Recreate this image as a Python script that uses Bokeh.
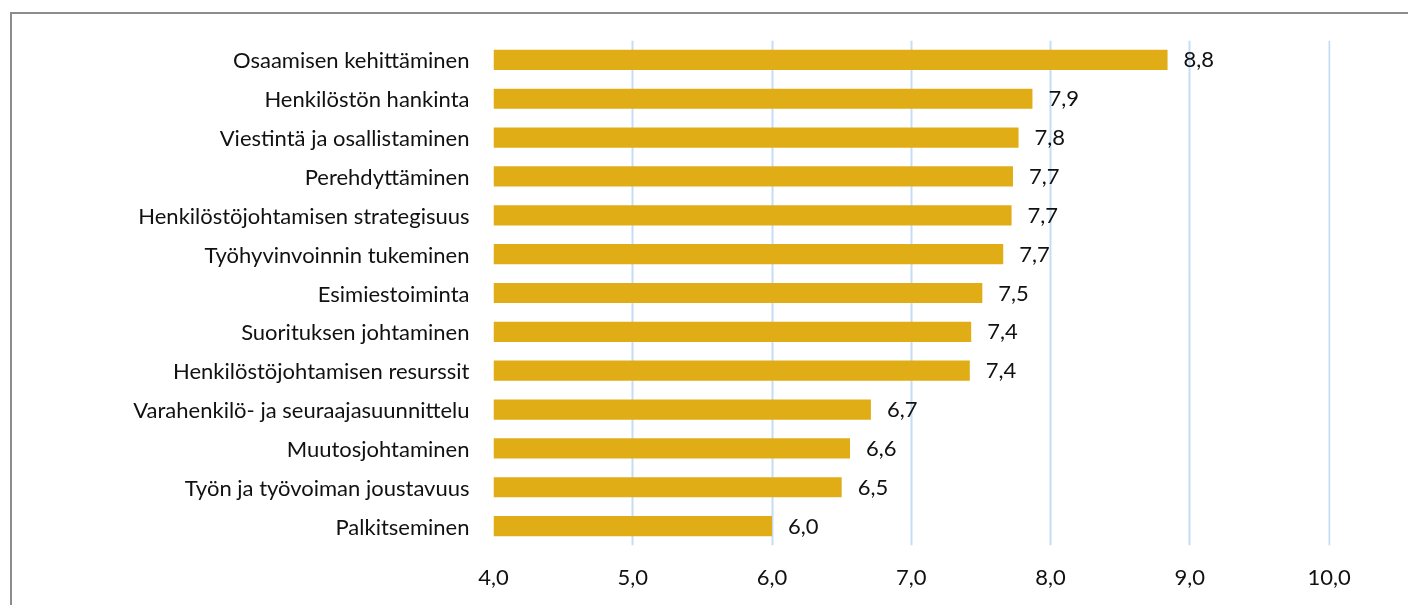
from bokeh.plotting import figure
from bokeh.models import ColumnDataSource, FactorRange, Range1d, CustomJSTickFormatter, FixedTicker
from bokeh.core.properties import value
from bokeh.embed import file_html
from bokeh.resources import INLINE

# HR management areas (top to bottom) and their average scores
categories = [
    "Osaamisen kehittäminen",
    "Henkilöstön hankinta",
    "Viestintä ja osallistaminen",
    "Perehdyttäminen",
    "Henkilöstöjohtamisen strategisuus",
    "Työhyvinvoinnin tukeminen",
    "Esimiestoiminta",
    "Suorituksen johtaminen",
    "Henkilöstöjohtamisen resurssit",
    "Varahenkilö- ja seuraajasuunnittelu",
    "Muutosjohtaminen",
    "Työn ja työvoiman joustavuus",
    "Palkitseminen",
]
scores = [8.84, 7.87, 7.77, 7.73, 7.72, 7.66, 7.51, 7.43, 7.42, 6.71, 6.56, 6.50, 6.00]
x_ticks = [4, 5, 6, 7, 8, 9, 10]

labels = [f"{v:.1f}".replace(".", ",") for v in scores]
source = ColumnDataSource(dict(cat=categories, score=scores, label=labels,
                               base=[x_ticks[0]] * len(scores)))

FONT = "Lato"
FONT_SIZE = "22px"
BAR = "#E0AD16"

p = figure(
    width=1412, height=600,
    y_range=FactorRange(*reversed(categories), range_padding=0),
    x_range=Range1d(4, 10.01),
    output_backend="svg", toolbar_location=None,
    min_border_left=481, min_border_right=94, min_border_top=26, min_border_bottom=69,
)
# chart-area border; the box runs past the right and bottom edges of the page
p.styles = {"border": "2px solid #8C8C8C", "position": "fixed", "left": "10px", "top": "12px"}

p.outline_line_color = None
p.background_fill_color = "white"
p.border_fill_color = "white"

p.hbar(y="cat", left="base", right="score", height=0.52, source=source,
       fill_color=BAR, line_color=None)

p.text(x="score", y="cat", text="label", source=source, x_offset=16,
       text_align="left", text_baseline="middle",
       text_font=value(FONT), text_font_size=FONT_SIZE, text_color="#111111")

# grid
p.ygrid.grid_line_color = None
p.xgrid.grid_line_color = "#C5DCF6"
p.xgrid.grid_line_width = 2
p.xaxis.ticker = FixedTicker(ticks=x_ticks)
p.xaxis.formatter = CustomJSTickFormatter(code="return tick.toFixed(1).replace('.', ',');")

for ax in (p.xaxis, p.yaxis):
    ax.axis_line_color = None
    ax.major_tick_line_color = None
    ax.minor_tick_line_color = None
    ax.major_label_text_font = FONT
    ax.major_label_text_font_size = FONT_SIZE
    ax.major_label_text_color = "#111111"

p.xaxis.major_label_standoff = 18
p.yaxis.major_label_standoff = 18

open("out.html", "w").write(file_html(p, INLINE))
